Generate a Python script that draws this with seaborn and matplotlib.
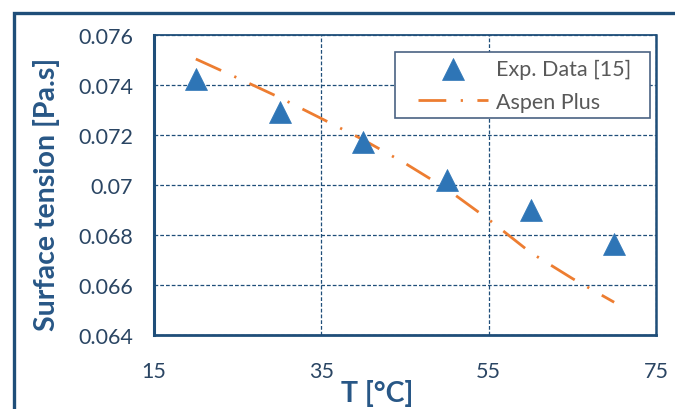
import matplotlib
matplotlib.use("Agg")
import matplotlib.pyplot as plt
from matplotlib.patches import Rectangle
import seaborn as sns
import pandas as pd

# Experimental surface tension data
exp_T = [20, 30, 40, 50, 60, 70]
exp_sigma = [0.07424, 0.07291, 0.07172, 0.07019, 0.06901, 0.06766]

# Aspen Plus prediction
aspen_T = [20, 25, 30, 35, 40, 45, 50, 55, 60, 65, 70]
aspen_sigma = [0.07504, 0.07428, 0.0735, 0.07266, 0.07181, 0.07087,
               0.06984, 0.06862, 0.0673, 0.06626, 0.06531]

x_ticks = [15, 35, 55, 75]
y_ticks = [0.064, 0.066, 0.068, 0.07, 0.072, 0.074, 0.076]
y_tick_labels = ["0.064", "0.066", "0.068", "0.07", "0.072", "0.074", "0.076"]

NAVY = "#1F4E79"
TICK_TEXT = "#2A4563"
LABEL = "#285786"
BLUE = "#2E75B6"
ORANGE = "#ED7D31"

sns.set_style("white")
plt.rcParams["font.family"] = ["Lato", "DejaVu Sans"]

W, H = 675, 410
fig = plt.figure(figsize=(W / 100, H / 100), dpi=100)

# outer chart frame (runs off the right and bottom edges)
fig.add_artist(Rectangle((13.5 / W, -0.1), 1.2, 1.1 - 13.5 / H,
                         transform=fig.transFigure, fill=False,
                         edgecolor=NAVY, linewidth=2.4, zorder=0))

ax = fig.add_axes([154 / W, 1 - 336 / H, 502 / W, 300 / H])

exp_df = pd.DataFrame({"T": exp_T, "sigma": exp_sigma})
aspen_df = pd.DataFrame({"T": aspen_T, "sigma": aspen_sigma})

sns.lineplot(data=aspen_df, x="T", y="sigma", ax=ax, color=ORANGE,
             linewidth=2.0, label="Aspen Plus", zorder=3,
             dashes=False)
line = ax.get_lines()[-1]
line.set_dashes((10, 5.2, 0.8, 5.2))

sns.scatterplot(data=exp_df, x="T", y="sigma", ax=ax, marker="^",
                s=250, color=BLUE, edgecolor=BLUE, linewidth=0.5,
                label="Exp. Data [15]", zorder=4)

ax.set_xlim(15, 75)
ax.set_ylim(0.064, 0.076)
ax.set_xticks(x_ticks)
ax.set_xticklabels([str(t) for t in x_ticks])
ax.set_yticks(y_ticks)
ax.set_yticklabels(y_tick_labels)
ax.tick_params(axis="both", length=0, labelsize=15.5, colors=TICK_TEXT)
ax.tick_params(axis="y", pad=15)
ax.tick_params(axis="x", pad=19)

ax.grid(True, color=NAVY, linestyle=(0, (3, 1.6)), linewidth=0.9)
ax.set_axisbelow(True)

for side, lw in [("left", 2.2), ("bottom", 2.0), ("right", 1.8), ("top", 1.3)]:
    ax.spines[side].set_visible(True)
    ax.spines[side].set_color(NAVY)
    ax.spines[side].set_linewidth(lw)

ax.set_xlabel("")
ax.set_ylabel("")
fig.text(47 / W, 1 - 194 / H, "Surface tension [Pa.s]", rotation=90,
         ha="center", va="center", fontsize=20.5, fontweight="bold",
         color=LABEL)
fig.text(377 / W, 1 - 394 / H, "T [°C]", ha="center", va="center",
         fontsize=20.5, fontweight="bold", color=LABEL)

# legend box drawn separately so its padding can differ per side
ax.add_patch(Rectangle((395 / W, 1 - 119 / H), 255 / W, 66 / H,
                       transform=fig.transFigure, facecolor="white",
                       edgecolor="#4A6283", linewidth=1.2, zorder=5,
                       clip_on=False))

handles, labels = ax.get_legend_handles_labels()
order = [labels.index("Exp. Data [15]"), labels.index("Aspen Plus")]
leg = ax.legend([handles[i] for i in order], [labels[i] for i in order],
                loc="upper left", bbox_to_anchor=(418 / W, 1 - 59.5 / H),
                bbox_transform=fig.transFigure, fontsize=15.5,
                frameon=False, handlelength=3.25,
                handletextpad=0.38, borderpad=0, labelspacing=0.62,
                borderaxespad=0)
leg.set_zorder(6)
for t in leg.get_texts():
    t.set_color("#595959")

fig.savefig("out.png", dpi=100)
